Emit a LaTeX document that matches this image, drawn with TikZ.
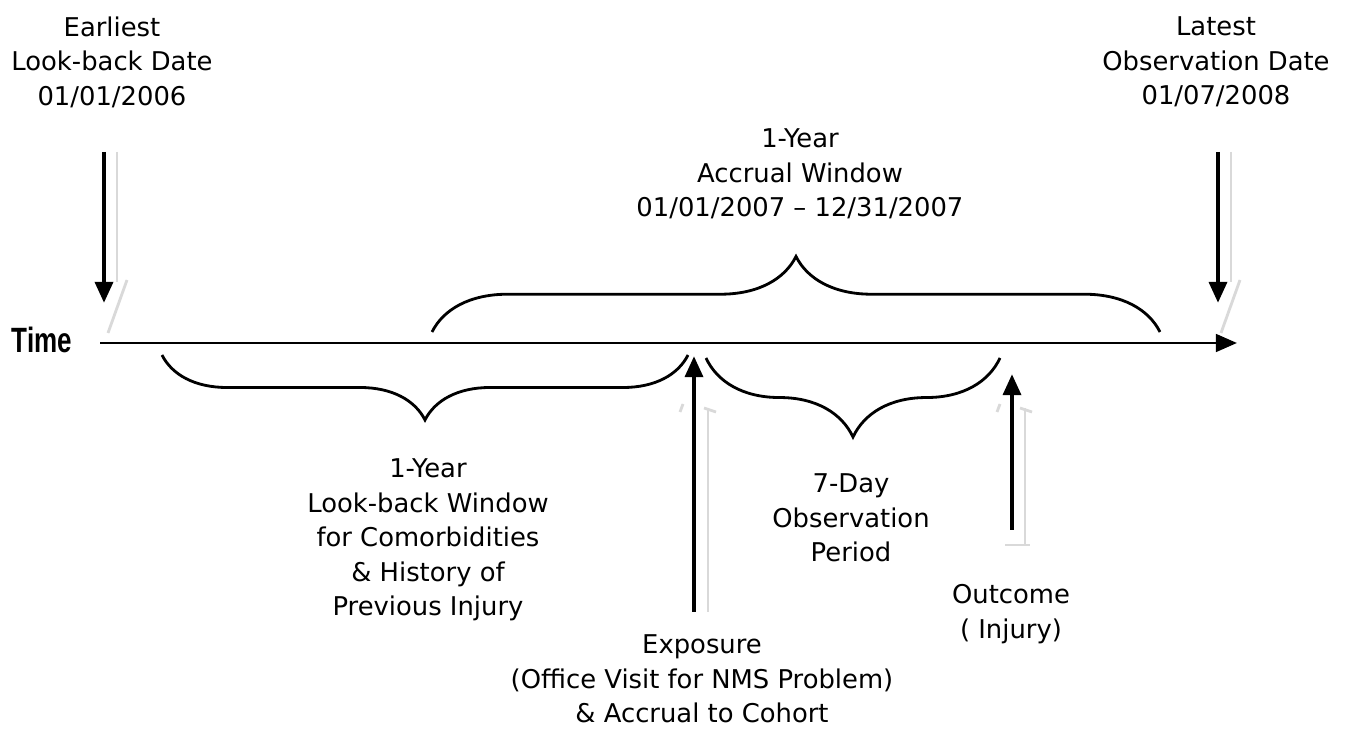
\documentclass[tikz,border=0pt]{standalone}
\usepackage{fontspec}
\setmainfont{DejaVu Sans}
\newfontfamily\timefont{Liberation Sans}
\usetikzlibrary{arrows.meta,decorations.pathreplacing}
\begin{document}
\begin{tikzpicture}[x=0.02cm,y=-0.02cm,
    txt/.style={align=center,font=\fontsize{14.7}{19.6}\selectfont},
    bigarrow/.style={line width=2.6pt,-{Triangle[width=10pt,length=12pt]}},
    shadowline/.style={line width=1.6pt,gray!30},
    bracket/.style={line width=1.6pt,decorate,decoration={brace,amplitude=#1}}]
\useasboundingbox[fill=white] (0,0) rectangle (1350,732);
% points on the time axis
\coordinate (t0) at (100,343);
\coordinate (t1) at (1237,343);
\coordinate (acc0) at (432,332);
\coordinate (acc1) at (1160,332);
\coordinate (lb0) at (162,355);
\coordinate (lb1) at (688,355);
\coordinate (obs0) at (706,358);
\coordinate (obs1) at (1000,358);
% arrow ends
\coordinate (early top) at (104,152);
\coordinate (early tip) at (104,303);
\coordinate (late top) at (1218,152);
\coordinate (late tip) at (1218,303);
\coordinate (exp foot) at (694,612);
\coordinate (exp tip) at (694,356);
\coordinate (out foot) at (1012,530);
\coordinate (out tip) at (1012,374);

% shadows
\draw[shadowline] (117,152) -- (117,282);
\draw[shadowline] (127,280) -- (108,333);
\draw[shadowline] (1231,152) -- (1231,282);
\draw[shadowline] (1240,280) -- (1221,333);
\draw[shadowline] (708,408) -- (708,612);
\draw[shadowline] (704,408) -- (716,412);
\draw[shadowline] (680,412) -- (683,404);
\draw[shadowline] (1025,408) -- (1025,545);
\draw[shadowline] (1005,545) -- (1030,545);
\draw[shadowline] (1020,408) -- (1032,412);
\draw[shadowline] (997,412) -- (1000,404);

% time axis
\draw[line width=1.7pt,-{Triangle[width=10pt,length=12pt]}] (t0) -- (t1);
\node[font=\timefont\bfseries\fontsize{20}{24}\selectfont] (time) at (42,340) {\scalebox{0.74}[1]{Time}};

% braces
\draw[bracket=43pt] (acc0) -- (acc1);
\draw[bracket=37pt] (lb1) -- (lb0);
\draw[bracket=45pt] (obs1) -- (obs0);

% arrows
\draw[bigarrow] (early top) -- (early tip);
\draw[bigarrow] (late top) -- (late tip);
\draw[bigarrow] (exp foot) -- (exp tip);
\draw[bigarrow] (out foot) -- (out tip);

% labels
\node[txt] (earliest) at (112,62) {Earliest\\Look-back Date\\01/01/2006};
\node[txt] (latest) at (1216,62) {Latest\\Observation Date\\01/07/2008};
\node[txt] (accrual) at (800,174) {1-Year\\Accrual Window\\01/01/2007 – 12/31/2007};
\node[txt] (lookback) at (428,540) {1-Year\\Look-back Window\\for Comorbidities\\\& History of\\Previous Injury};
\node[txt] (sevenday) at (851,518) {7-Day\\Observation\\Period};
\node[txt] (exposure) at (702,679) {Exposure\\(Office Visit for NMS Problem)\\\& Accrual to Cohort};
\node[txt] (outcome) at (1011,614) {Outcome\\( Injury)};
\end{tikzpicture}
\end{document}
